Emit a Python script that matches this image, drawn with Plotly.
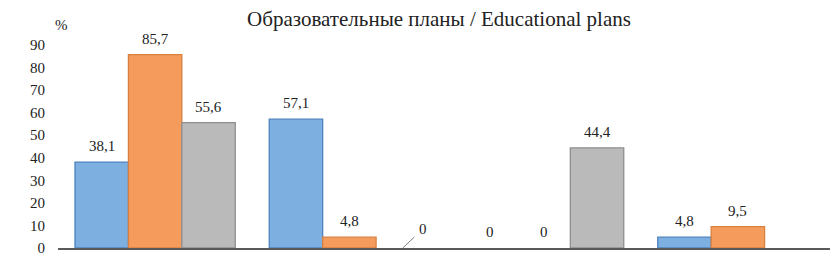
import plotly.graph_objects as go

categories = ["Группа 1", "Группа 2", "Группа 3", "Группа 4"]
series_names = ["Серия 1", "Серия 2", "Серия 3"]
blue_vals = [38.1, 57.1, 0, 4.8]
orange_vals = [85.7, 4.8, 0, 9.5]
gray_vals = [55.6, 0, 44.4, None]
tick_vals = [0, 10, 20, 30, 40, 50, 60, 70, 80, 90]

fills = ["#7DB0E1", "#F59C5C", "#BABABA"]
borders = ["#4F82BD", "#D7803F", "#8F8F8F"]
all_vals = [blue_vals, orange_vals, gray_vals]

# page body has an 8px default margin; compensate
OFF = 8
W, H = 838 - OFF, 259 - OFF

font_serif = "'Liberation Serif', Tinos, 'Times New Roman', 'DejaVu Serif', serif"
LBL = 15

fig = go.Figure()
for name, vals, fc, bc in zip(series_names, all_vals, fills, borders):
    lw = [0 if (v is None or v == 0) else 1.3 for v in vals]
    fig.add_trace(go.Bar(
        x=categories, y=vals, name=name,
        marker=dict(color=fc, line=dict(color=bc, width=lw)),
        offsetgroup=name,
    ))

def fmt(v):
    return "0" if v == 0 else ("%.1f" % v).replace(".", ",")

n = len(series_names)
bw = 1 - 0.175
annotations = []
for si, vals in enumerate(all_vals):
    for ci, v in enumerate(vals):
        if v is None:
            continue
        xpos = ci - bw / 2 + bw / n * (si + 0.5)
        if si == 2 and ci == 1:
            annotations.append(dict(
                x=xpos, y=v, xref="x", yref="y", text=fmt(v),
                showarrow=True, ax=20, ay=-19, arrowhead=0, arrowwidth=1,
                arrowcolor="#7F7F7F", standoff=0, startstandoff=4,
                font=dict(family=font_serif, size=LBL, color="#222")))
        else:
            annotations.append(dict(
                x=xpos, y=v, xref="x", yref="y", text=fmt(v),
                showarrow=False, yshift=16, yanchor="middle",
                font=dict(family=font_serif, size=LBL, color="#222")))

annotations.append(dict(x=(12 - OFF) / W, y=1 + (45 - 25) / 203,
                        xref="paper", yref="paper", text="%",
                        xanchor="center", yanchor="middle", showarrow=False,
                        font=dict(family=font_serif, size=LBL, color="#222")))

fig.update_layout(
    width=W, height=H,
    margin=dict(l=58 - OFF, r=3, t=45 - OFF, b=11),
    paper_bgcolor="white", plot_bgcolor="white",
    showlegend=False,
    bargap=0.175, bargroupgap=0,
    barmode="group",
    title=dict(text="Образовательные планы / Educational plans",
               x=(439 - OFF) / W, xanchor="center", xref="container",
               y=1 - (19 - OFF) / H, yanchor="middle", yref="container",
               font=dict(family=font_serif, size=21, color="#222")),
    font=dict(family=font_serif, size=LBL, color="#222"),
    annotations=annotations,
)
fig.update_xaxes(showticklabels=False, showline=True, linecolor="#595959",
                 linewidth=2, ticks="", showgrid=False, zeroline=False)
fig.update_yaxes(range=[0, 90], tickvals=tick_vals, showgrid=False,
                 zeroline=False, showline=False, ticks="",
                 ticklabelstandoff=12,
                 tickfont=dict(family=font_serif, size=LBL, color="#222"))

fig.write_html("out.html")
